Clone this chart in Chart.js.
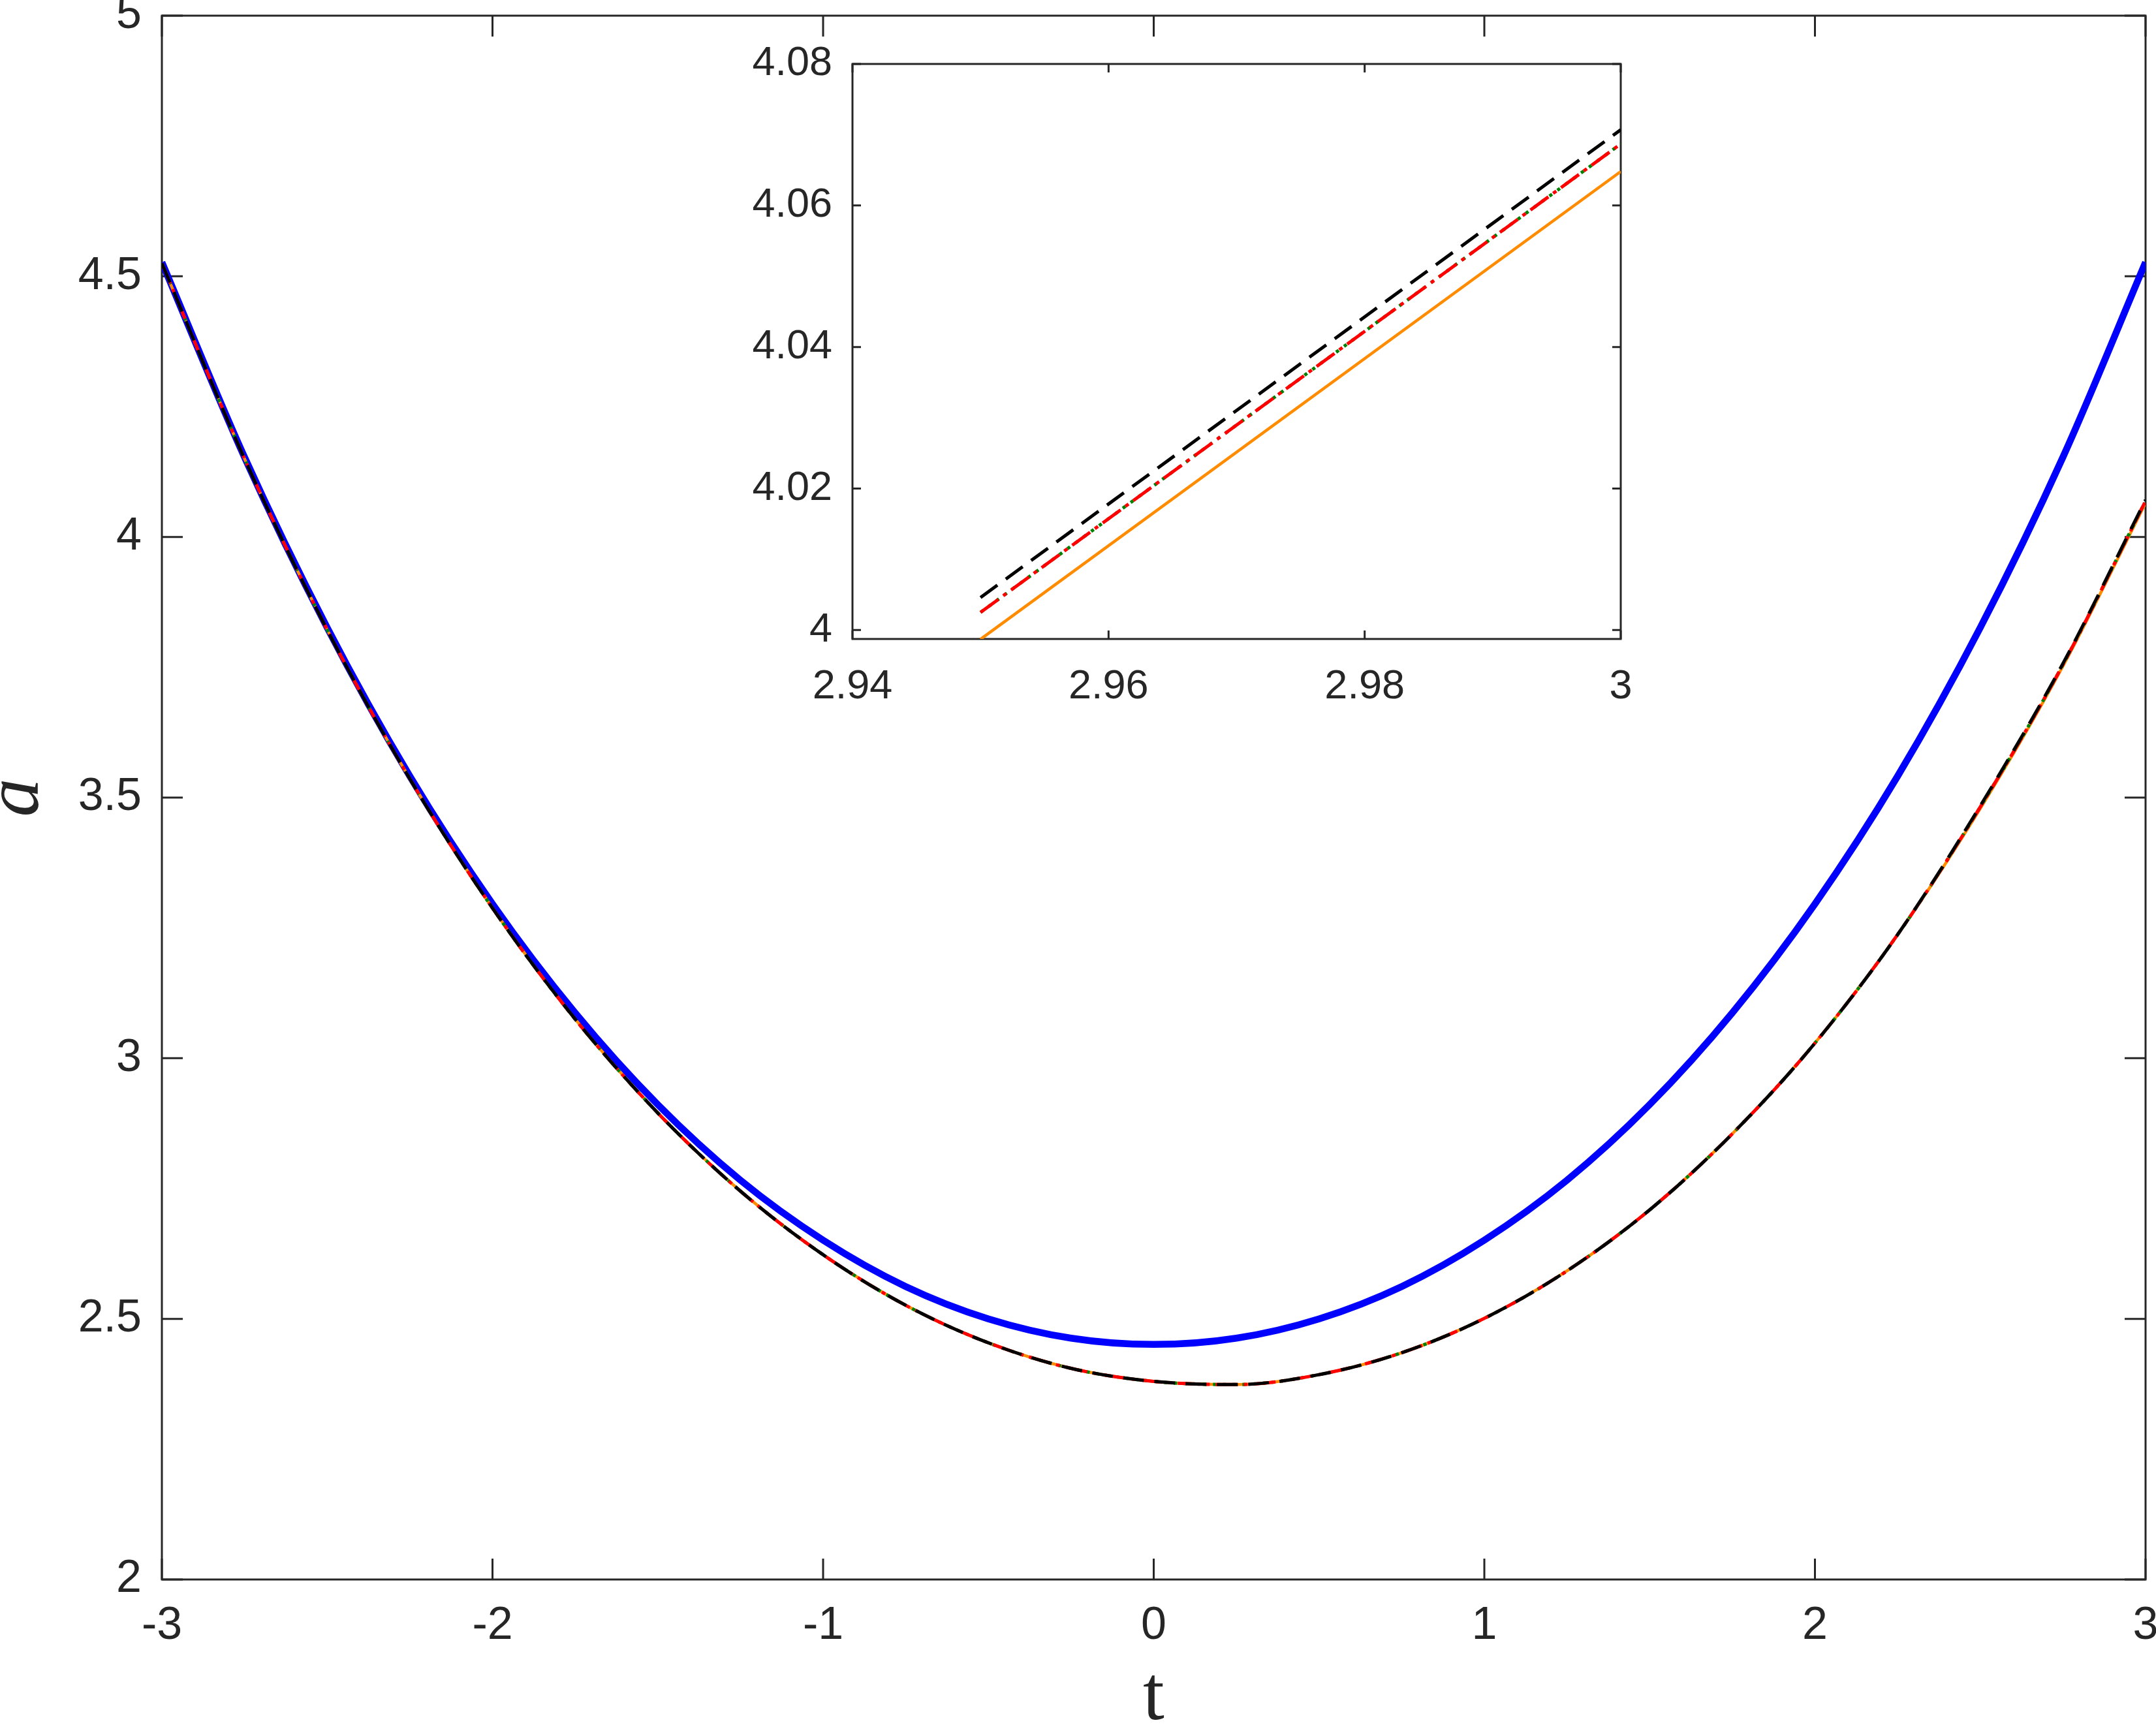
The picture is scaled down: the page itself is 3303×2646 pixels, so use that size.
<!DOCTYPE html>
<html>
<head>
<meta charset="utf-8">
<script src="https://cdn.jsdelivr.net/npm/chart.js@4.4.0/dist/chart.umd.min.js"></script>
<style>
  body { margin: 0; background: #fff; }
  #wrap { position: relative; width: 3303px; height: 2646px; }
  canvas { position: absolute; left: 0; top: 0; }
</style>
</head>
<body>
<div id="wrap">
  <canvas id="mainChart" width="3303" height="2646"></canvas>
  <canvas id="insetChart" width="3303" height="2646"></canvas>
</div>
<script>
// main panel data
const tMain = [-3, -2.75, -2.5, -2.25, -2, -1.75, -1.5, -1.25, -1, -0.75, -0.5, -0.25, 0,
               0.25, 0.5, 0.75, 1, 1.25, 1.5, 1.75, 2, 2.25, 2.5, 2.75, 3];
const aBlue = [4.527, 4.153, 3.826, 3.541, 3.296, 3.087, 2.911, 2.766, 2.651, 2.562, 2.500, 2.463, 2.451,
               2.463, 2.500, 2.562, 2.651, 2.766, 2.911, 3.087, 3.296, 3.541, 3.826, 4.153, 4.527];
const aBlack = [4.525, 4.150, 3.822, 3.536, 3.288, 3.075, 2.895, 2.745, 2.623, 2.526, 2.454, 2.405, 2.380,
                2.374, 2.393, 2.435, 2.501, 2.592, 2.709, 2.855, 3.029, 3.237, 3.484, 3.757, 4.071];
const aRed = [4.525, 4.150, 3.822, 3.536, 3.288, 3.075, 2.895, 2.745, 2.623, 2.526, 2.454, 2.405, 2.380,
              2.374, 2.393, 2.435, 2.501, 2.592, 2.709, 2.855, 3.029, 3.237, 3.482, 3.755, 4.069];
const aGreen = [4.525, 4.150, 3.822, 3.536, 3.288, 3.075, 2.895, 2.745, 2.623, 2.526, 2.454, 2.405, 2.380,
                2.374, 2.393, 2.435, 2.501, 2.592, 2.709, 2.855, 3.029, 3.237, 3.482, 3.755, 4.069];
const aOrange = [4.525, 4.150, 3.822, 3.536, 3.288, 3.075, 2.895, 2.745, 2.623, 2.526, 2.454, 2.405, 2.380,
                 2.374, 2.393, 2.435, 2.501, 2.592, 2.709, 2.855, 3.029, 3.237, 3.479, 3.752, 4.065];
const mainXTicks = [-3, -2, -1, 0, 1, 2, 3];
const mainYTicks = [2, 2.5, 3, 3.5, 4, 4.5, 5];

// inset (zoom near t = 3)
const tInset = [2.95, 3];
const insetBlack = [4.0046, 4.0707];
const insetRed = [4.0025, 4.0687];
const insetGreen = [4.0025, 4.0687];
const insetOrange = [3.9987, 4.0648];
const insetXTicks = [2.94, 2.96, 2.98, 3];
const insetYTicks = [4, 4.02, 4.04, 4.06, 4.08];

const AXIS = '#262626';
const DASH = [32, 16];
const DASHDOT = [34, 9, 6, 9];
const DOTS = [5, 10];

function pts(xs, ys) {
  return xs.map((x, i) => ({ x: x, y: ys[i] }));
}

// box round the axes, ticks pointing inwards on all four sides
const boxTicks = {
  id: 'boxTicks',
  beforeDatasetsDraw(chart, args, opts) {
    const { ctx, chartArea: { left, right, top, bottom }, scales: { x, y } } = chart;
    ctx.save();
    if (opts.fill) {
      ctx.fillStyle = '#fff';
      ctx.fillRect(left, top, right - left, bottom - top);
    }
    ctx.strokeStyle = AXIS;
    ctx.lineWidth = opts.width;
    ctx.beginPath();
    x.ticks.forEach(t => {
      const px = x.getPixelForValue(t.value);
      ctx.moveTo(px, bottom); ctx.lineTo(px, bottom - opts.len);
      ctx.moveTo(px, top); ctx.lineTo(px, top + opts.len);
    });
    y.ticks.forEach(t => {
      const py = y.getPixelForValue(t.value);
      ctx.moveTo(left, py); ctx.lineTo(left + opts.len, py);
      ctx.moveTo(right, py); ctx.lineTo(right - opts.len, py);
    });
    ctx.stroke();
    ctx.strokeRect(left, top, right - left, bottom - top);
    ctx.restore();
  }
};

function line(label, xs, ys, color, width, dash, smooth) {
  return {
    label: label,
    data: pts(xs, ys),
    borderColor: color,
    borderWidth: width,
    borderDash: dash,
    pointRadius: 0,
    fill: false,
    tension: 0,
    cubicInterpolationMode: smooth ? 'monotone' : 'default'
  };
}

function tickFont(size) {
  return { family: 'Liberation Sans, Arial, Helvetica, sans-serif', size: size };
}

// main chart
new Chart(document.getElementById('mainChart').getContext('2d'), {
  type: 'line',
  data: {
    datasets: [
      line('black', tMain, aBlack, '#000000', 5, DASH, true),
      line('red', tMain, aRed, '#ff0000', 5, DASHDOT, true),
      line('green', tMain, aGreen, '#008000', 5, DOTS, true),
      line('orange', tMain, aOrange, '#ff8c00', 4.5, [], true),
      line('blue', tMain, aBlue, '#0000ff', 10.5, [], true)
    ]
  },
  options: {
    responsive: false,
    devicePixelRatio: 1,
    animation: false,
    events: [],
    layout: { padding: { left: 0, top: 24, right: 16, bottom: 0 } },
    plugins: {
      legend: { display: false },
      tooltip: { enabled: false },
      boxTicks: { len: 32, width: 3, fill: false }
    },
    scales: {
      x: {
        type: 'linear', min: -3, max: 3,
        grid: { display: false, drawTicks: false },
        border: { display: false },
        afterBuildTicks: s => { s.ticks = mainXTicks.map(v => ({ value: v })); },
        afterFit: s => { s.height = 226; s.paddingLeft = 0; s.paddingRight = 0; },
        ticks: { padding: 30, color: AXIS, font: tickFont(70), maxRotation: 0, autoSkip: false,
                 callback: v => String(v) },
        title: { display: true, text: 't', color: AXIS, padding: 0,
                 font: { family: 'Liberation Serif, Times New Roman, serif', size: 118, lineHeight: 0.73 } }
      },
      y: {
        type: 'linear', min: 2, max: 5,
        grid: { display: false, drawTicks: false },
        border: { display: false },
        afterBuildTicks: s => { s.ticks = mainYTicks.map(v => ({ value: v })); },
        afterFit: s => { s.width = 248; s.paddingTop = 0; s.paddingBottom = 0; },
        ticks: { padding: 31, color: AXIS, font: tickFont(70), autoSkip: false,
                 callback: v => String(v) },
        title: { display: true, text: 'a', color: AXIS, padding: 0,
                 font: { family: 'Liberation Serif, Times New Roman, serif', style: 'italic', size: 118, lineHeight: 0.45 } }
      }
    }
  },
  plugins: [boxTicks]
});

// inset chart
new Chart(document.getElementById('insetChart').getContext('2d'), {
  type: 'line',
  data: {
    datasets: [
      line('black', tInset, insetBlack, '#000000', 5, DASH, false),
      line('red', tInset, insetRed, '#ff0000', 5, DASHDOT, false),
      line('green', tInset, insetGreen, '#008000', 5, DOTS, false),
      line('orange', tInset, insetOrange, '#ff8c00', 4.5, [], false)
    ]
  },
  options: {
    responsive: false,
    devicePixelRatio: 1,
    animation: false,
    events: [],
    layout: { padding: { left: 0, top: 98, right: 820, bottom: 1467 } },
    plugins: {
      legend: { display: false },
      tooltip: { enabled: false },
      boxTicks: { len: 13, width: 3, fill: true }
    },
    scales: {
      x: {
        type: 'linear', min: 2.94, max: 3,
        grid: { display: false, drawTicks: false },
        border: { display: false },
        afterBuildTicks: s => { s.ticks = insetXTicks.map(v => ({ value: v })); },
        afterFit: s => { s.height = 200; s.paddingLeft = 0; s.paddingRight = 0; },
        ticks: { padding: 36, color: AXIS, font: tickFont(63), maxRotation: 0, autoSkip: false,
                 callback: v => String(v) }
      },
      y: {
        type: 'linear', min: 3.99874, max: 4.08,
        grid: { display: false, drawTicks: false },
        border: { display: false },
        afterBuildTicks: s => { s.ticks = insetYTicks.map(v => ({ value: v })); },
        afterFit: s => { s.width = 1306; s.paddingTop = 0; s.paddingBottom = 0; },
        ticks: { padding: 31, color: AXIS, font: tickFont(63), autoSkip: false,
                 callback: v => String(v) }
      }
    }
  },
  plugins: [boxTicks]
});
</script>
</body>
</html>
